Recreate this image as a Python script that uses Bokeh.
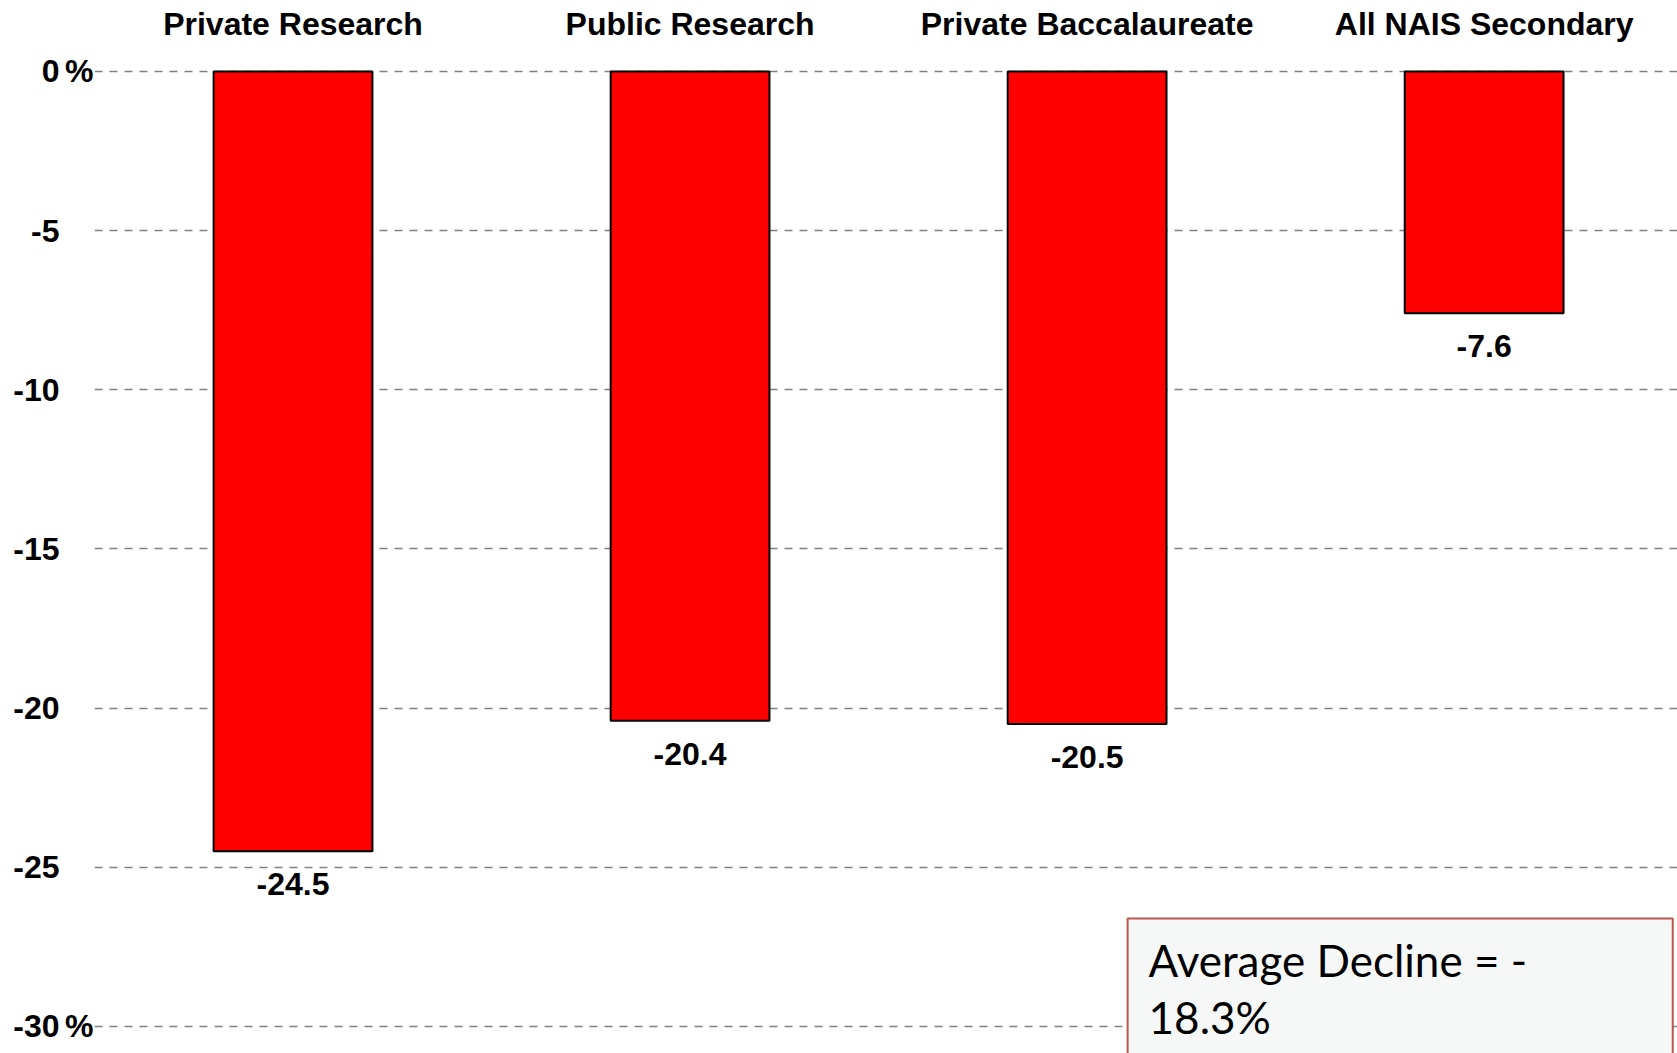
from bokeh.plotting import figure
from bokeh.models import (Range1d, FixedTicker, ColumnDataSource, Label,
                          BoxAnnotation, LinearAxis)
from bokeh.core.properties import value
from bokeh.embed import file_html
from bokeh.resources import INLINE

# ---- data -------------------------------------------------------------
categories = ["Private Research", "Public Research",
              "Private Baccalaureate", "All NAIS Secondary"]
changes = [-24.5, -20.4, -20.5, -7.6]
value_labels = ["-24.5", "-20.4", "-20.5", "-7.6"]
y_ticks = [0, -5, -10, -15, -20, -25, -30]
y_tick_labels = ["0", "-5", "-10", "-15", "-20", "-25", "-30"]
pct_ticks = [0, -30]
note_text = "Average Decline = -\n18.3%"

# ---- figure -----------------------------------------------------------
idx = list(range(len(categories)))
src = ColumnDataSource(dict(x=idx, top=[0] * len(idx), bottom=changes,
                            lab=value_labels))

FONT = "Liberation Sans"
FS = "32px"

p = figure(width=1677, height=1053,
           x_range=Range1d(-0.5, 3.487), y_range=Range1d(-30.85, 0.5),
           x_axis_location="above",
           output_backend="svg", toolbar_location=None,
           min_border_left=94, min_border_top=55,
           min_border_right=0, min_border_bottom=0)
p.outline_line_color = None
p.background_fill_color = "white"
p.border_fill_color = "white"


def style_axis(ax, standoff):
    ax.axis_line_color = None
    ax.major_tick_line_color = None
    ax.minor_tick_line_color = None
    ax.major_tick_out = 0
    ax.major_tick_in = 0
    ax.major_label_standoff = standoff
    ax.major_label_text_font = FONT
    ax.major_label_text_font_style = "bold"
    ax.major_label_text_font_size = FS
    ax.major_label_text_color = "black"


# category axis (top)
xa = p.xaxis[0]
xa.ticker = FixedTicker(ticks=idx)
xa.major_label_overrides = {i: c for i, c in zip(idx, categories)}
style_axis(xa, 14)

# numeric y axis
ya = p.yaxis[0]
ya.ticker = FixedTicker(ticks=y_ticks)
ya.major_label_overrides = {t: l for t, l in zip(y_ticks, y_tick_labels)}
style_axis(ya, 3)

# "%" axis, sitting between the numbers and the plot
pa = LinearAxis(ticker=FixedTicker(ticks=pct_ticks),
                major_label_overrides={t: "%" for t in pct_ticks})
style_axis(pa, 1)
p.left = [pa, ya]

# grid
p.xgrid.grid_line_color = None
p.ygrid.ticker = FixedTicker(ticks=y_ticks)
p.ygrid.grid_line_color = "#808080"
p.ygrid.grid_line_width = 1.5
p.ygrid.grid_line_dash = "8 7"

# bars
p.vbar(x="x", top="top", bottom="bottom", width=0.4, source=src,
       fill_color="#FF0000", line_color="black", line_width=2)

# value labels
p.text(x="x", y="bottom", text="lab", source=src,
       text_align="center", text_baseline="top", y_offset=22,
       text_font=value(FONT), text_font_style="bold",
       text_font_size=FS, text_color="black")

# annotation box
p.add_layout(BoxAnnotation(left=2.102, right=3.475, top=-26.61, bottom=-33,
                           fill_color="#F6F8F8", fill_alpha=1.0,
                           line_color="#B9584C", line_alpha=1.0, line_width=2,
                           level="overlay"))
p.add_layout(Label(x=2.102, y=-26.61, x_offset=21, y_offset=-15,
                   text=note_text, text_align="left", text_baseline="top",
                   text_font="Lato", text_font_size="44px",
                   text_line_height=1.1, text_color="black",
                   level="overlay"))

open("out.html", "w").write(file_html(p, INLINE))
